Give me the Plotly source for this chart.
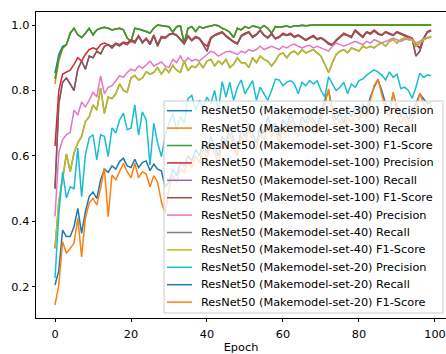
import plotly.graph_objects as go

epochs = list(range(100))

labels = [
    "ResNet50 (Makemodel-set-300) Precision",
    "ResNet50 (Makemodel-set-300) Recall",
    "ResNet50 (Makemodel-set-300) F1-Score",
    "ResNet50 (Makemodel-set-100) Precision",
    "ResNet50 (Makemodel-set-100) Recall",
    "ResNet50 (Makemodel-set-100) F1-Score",
    "ResNet50 (Makemodel-set-40) Precision",
    "ResNet50 (Makemodel-set-40) Recall",
    "ResNet50 (Makemodel-set-40) F1-Score",
    "ResNet50 (Makemodel-set-20) Precision",
    "ResNet50 (Makemodel-set-20) Recall",
    "ResNet50 (Makemodel-set-20) F1-Score",
]

colors = ["#1f77b4", "#ff7f0e", "#2ca02c", "#d62728", "#9467bd", "#8c564b",
          "#e377c2", "#7f7f7f", "#bcbd22", "#17becf", "#1f77b4", "#ff7f0e"]

set300_precision = [
    0.853, 0.910, 0.935, 0.940, 0.975, 0.990, 0.970, 0.962, 0.975, 0.990,
    0.970, 0.985, 0.990, 0.993, 0.990, 0.985, 0.988, 0.990, 0.985, 0.960,
    0.950, 0.990, 0.988, 0.985, 0.980, 0.975, 0.990, 1.000, 0.998, 0.997,
    0.995, 0.978, 0.995, 0.997, 0.945, 0.990, 0.995, 0.980, 0.995, 0.990,
    0.995, 0.997, 1.000, 0.998, 0.990, 0.985, 0.978, 0.962, 0.990, 0.985,
    0.995, 0.990, 0.997, 0.995, 0.990, 0.998, 0.990, 0.975, 0.995, 0.993,
    0.995, 0.997, 0.993, 0.998, 0.997, 0.999, 0.998, 1.000, 1.000, 1.000,
    1.000, 1.000, 1.000, 1.000, 1.000, 1.000, 1.000, 1.000, 1.000, 1.000,
    1.000, 1.000, 1.000, 1.000, 1.000, 1.000, 1.000, 1.000, 1.000, 1.000,
    1.000, 1.000, 1.000, 1.000, 1.000, 1.000, 1.000, 1.000, 1.000, 1.000,
]
set300_recall = [
    0.820, 0.890, 0.928, 0.940, 0.975, 0.990, 0.970, 0.962, 0.975, 0.990,
    0.970, 0.985, 0.990, 0.993, 0.990, 0.985, 0.988, 0.990, 0.985, 0.960,
    0.950, 0.990, 0.988, 0.985, 0.980, 0.975, 0.990, 1.000, 0.998, 0.997,
    0.995, 0.978, 0.995, 0.997, 0.945, 0.990, 0.995, 0.980, 0.995, 0.990,
    0.995, 0.997, 1.000, 0.998, 0.990, 0.985, 0.978, 0.962, 0.990, 0.985,
    0.995, 0.990, 0.997, 0.995, 0.990, 0.998, 0.990, 0.975, 0.995, 0.993,
    0.995, 0.997, 0.993, 0.998, 0.997, 0.999, 0.998, 1.000, 1.000, 1.000,
    1.000, 1.000, 1.000, 1.000, 1.000, 1.000, 1.000, 1.000, 1.000, 1.000,
    1.000, 1.000, 1.000, 1.000, 1.000, 1.000, 1.000, 1.000, 1.000, 1.000,
    1.000, 1.000, 1.000, 1.000, 1.000, 1.000, 1.000, 1.000, 1.000, 1.000,
]
set300_f1 = [
    0.835, 0.900, 0.930, 0.940, 0.975, 0.990, 0.970, 0.962, 0.975, 0.990,
    0.970, 0.985, 0.990, 0.993, 0.990, 0.985, 0.988, 0.990, 0.985, 0.960,
    0.950, 0.990, 0.988, 0.985, 0.980, 0.975, 0.990, 1.000, 0.998, 0.997,
    0.995, 0.978, 0.995, 0.997, 0.945, 0.990, 0.995, 0.980, 0.995, 0.990,
    0.995, 0.997, 1.000, 0.998, 0.990, 0.985, 0.978, 0.962, 0.990, 0.985,
    0.995, 0.990, 0.997, 0.995, 0.990, 0.998, 0.990, 0.975, 0.995, 0.993,
    0.995, 0.997, 0.993, 0.998, 0.997, 0.999, 0.998, 1.000, 1.000, 1.000,
    1.000, 1.000, 1.000, 1.000, 1.000, 1.000, 1.000, 1.000, 1.000, 1.000,
    1.000, 1.000, 1.000, 1.000, 1.000, 1.000, 1.000, 1.000, 1.000, 1.000,
    1.000, 1.000, 1.000, 1.000, 1.000, 1.000, 1.000, 1.000, 1.000, 1.000,
]

set100_precision = [
    0.630, 0.800, 0.850, 0.857, 0.862, 0.880, 0.900, 0.890, 0.910, 0.925,
    0.930, 0.925, 0.940, 0.945, 0.940, 0.935, 0.945, 0.940, 0.948, 0.945,
    0.955, 0.950, 0.968, 0.948, 0.960, 0.945, 0.970, 0.940, 0.965, 0.962,
    0.972, 0.975, 0.970, 0.958, 0.945, 0.968, 0.955, 0.965, 0.960, 0.945,
    0.935, 0.962, 0.970, 0.975, 0.980, 0.968, 0.958, 0.950, 0.945, 0.968,
    0.975, 0.980, 0.965, 0.972, 0.985, 0.970, 0.962, 0.975, 0.960, 0.965,
    0.975, 0.970, 0.975, 0.965, 0.970, 0.962, 0.955, 0.962, 0.968, 0.958,
    0.962, 0.955, 0.945, 0.940, 0.955, 0.965, 0.975, 0.970, 0.965, 0.985,
    0.975, 0.965, 0.980, 0.975, 0.985, 0.975, 0.970, 0.980, 0.975, 0.970,
    0.980, 0.975, 0.970, 0.965, 0.960, 0.940, 0.930, 0.960, 0.980, 0.985,
]
set100_recall = [
    0.500, 0.760, 0.825, 0.838, 0.820, 0.800, 0.865, 0.890, 0.865, 0.905,
    0.900, 0.920, 0.912, 0.935, 0.940, 0.930, 0.942, 0.936, 0.945, 0.940,
    0.952, 0.945, 0.965, 0.945, 0.958, 0.940, 0.967, 0.935, 0.962, 0.960,
    0.970, 0.973, 0.968, 0.955, 0.942, 0.965, 0.952, 0.962, 0.958, 0.940,
    0.920, 0.958, 0.968, 0.972, 0.978, 0.965, 0.955, 0.948, 0.942, 0.965,
    0.972, 0.978, 0.962, 0.970, 0.983, 0.968, 0.960, 0.972, 0.958, 0.962,
    0.972, 0.968, 0.972, 0.962, 0.968, 0.960, 0.953, 0.960, 0.965, 0.955,
    0.960, 0.952, 0.942, 0.938, 0.952, 0.962, 0.972, 0.968, 0.962, 0.982,
    0.972, 0.962, 0.978, 0.972, 0.982, 0.972, 0.968, 0.978, 0.972, 0.968,
    0.978, 0.972, 0.968, 0.962, 0.958, 0.905, 0.920, 0.958, 0.978, 0.982,
]
set100_f1 = [
    0.500, 0.760, 0.825, 0.838, 0.820, 0.800, 0.865, 0.890, 0.865, 0.905,
    0.900, 0.920, 0.912, 0.935, 0.940, 0.930, 0.942, 0.936, 0.945, 0.940,
    0.952, 0.945, 0.965, 0.945, 0.958, 0.940, 0.967, 0.935, 0.962, 0.960,
    0.970, 0.973, 0.968, 0.955, 0.942, 0.965, 0.952, 0.962, 0.958, 0.940,
    0.920, 0.958, 0.968, 0.972, 0.978, 0.965, 0.955, 0.948, 0.942, 0.965,
    0.972, 0.978, 0.962, 0.970, 0.983, 0.968, 0.960, 0.972, 0.958, 0.962,
    0.972, 0.968, 0.972, 0.962, 0.968, 0.960, 0.953, 0.960, 0.965, 0.955,
    0.960, 0.952, 0.942, 0.938, 0.952, 0.962, 0.972, 0.968, 0.962, 0.982,
    0.972, 0.962, 0.978, 0.972, 0.982, 0.972, 0.968, 0.978, 0.972, 0.968,
    0.978, 0.972, 0.968, 0.962, 0.958, 0.905, 0.920, 0.958, 0.978, 0.982,
]

set40_precision = [
    0.415, 0.610, 0.650, 0.665, 0.672, 0.740, 0.725, 0.765, 0.750, 0.770,
    0.795, 0.780, 0.845, 0.790, 0.810, 0.815, 0.830, 0.845, 0.840, 0.855,
    0.865, 0.860, 0.875, 0.868, 0.878, 0.890, 0.875, 0.880, 0.887, 0.875,
    0.870, 0.895, 0.885, 0.905, 0.885, 0.900, 0.890, 0.895, 0.890, 0.900,
    0.910, 0.920, 0.915, 0.905, 0.912, 0.918, 0.920, 0.915, 0.910, 0.920,
    0.915, 0.925, 0.920, 0.925, 0.935, 0.925, 0.930, 0.935, 0.930, 0.925,
    0.935, 0.930, 0.938, 0.942, 0.935, 0.930, 0.935, 0.938, 0.930, 0.935,
    0.930, 0.925, 0.920, 0.935, 0.945, 0.940, 0.935, 0.940, 0.945, 0.950,
    0.945, 0.940, 0.950, 0.945, 0.955, 0.950, 0.945, 0.950, 0.955, 0.960,
    0.955, 0.950, 0.955, 0.960, 0.955, 0.945, 0.950, 0.958, 0.962, 0.962,
]
set40_recall = [
    0.318, 0.460, 0.530, 0.606, 0.552, 0.609, 0.640, 0.660, 0.705, 0.720,
    0.756, 0.740, 0.807, 0.730, 0.780, 0.775, 0.790, 0.820, 0.800, 0.795,
    0.838, 0.846, 0.832, 0.838, 0.857, 0.850, 0.855, 0.870, 0.850, 0.868,
    0.855, 0.877, 0.862, 0.855, 0.890, 0.860, 0.875, 0.870, 0.885, 0.870,
    0.890, 0.895, 0.875, 0.890, 0.880, 0.895, 0.870, 0.880, 0.900, 0.885,
    0.885, 0.870, 0.900, 0.885, 0.905, 0.895, 0.890, 0.875, 0.890, 0.910,
    0.915, 0.900, 0.915, 0.920, 0.910, 0.925, 0.915, 0.920, 0.925, 0.915,
    0.905, 0.880, 0.855, 0.885, 0.910, 0.920, 0.925, 0.915, 0.930, 0.925,
    0.920, 0.935, 0.930, 0.935, 0.930, 0.940, 0.945, 0.935, 0.950, 0.955,
    0.945, 0.955, 0.960, 0.955, 0.955, 0.935, 0.945, 0.955, 0.960, 0.965,
]
set40_f1 = [
    0.318, 0.460, 0.530, 0.606, 0.552, 0.609, 0.640, 0.660, 0.705, 0.720,
    0.756, 0.740, 0.807, 0.730, 0.780, 0.775, 0.790, 0.820, 0.800, 0.795,
    0.838, 0.846, 0.832, 0.838, 0.857, 0.850, 0.855, 0.870, 0.850, 0.868,
    0.855, 0.877, 0.862, 0.855, 0.890, 0.860, 0.875, 0.870, 0.885, 0.870,
    0.890, 0.895, 0.875, 0.890, 0.880, 0.895, 0.870, 0.880, 0.900, 0.885,
    0.885, 0.870, 0.900, 0.885, 0.905, 0.895, 0.890, 0.875, 0.890, 0.910,
    0.915, 0.900, 0.915, 0.920, 0.910, 0.925, 0.915, 0.920, 0.925, 0.915,
    0.905, 0.880, 0.855, 0.885, 0.910, 0.920, 0.925, 0.915, 0.930, 0.925,
    0.920, 0.935, 0.930, 0.935, 0.930, 0.940, 0.945, 0.935, 0.950, 0.955,
    0.945, 0.955, 0.960, 0.955, 0.955, 0.935, 0.945, 0.955, 0.960, 0.965,
]

set20_precision = [
    0.227, 0.420, 0.552, 0.472, 0.506, 0.500, 0.624, 0.476, 0.603, 0.655,
    0.665, 0.588, 0.665, 0.660, 0.598, 0.686, 0.670, 0.710, 0.731, 0.680,
    0.685, 0.756, 0.664, 0.735, 0.710, 0.573, 0.700, 0.640, 0.598, 0.660,
    0.700, 0.730, 0.680, 0.720, 0.700, 0.775, 0.785, 0.740, 0.770, 0.750,
    0.780, 0.760, 0.800, 0.740, 0.827, 0.780, 0.825, 0.770, 0.810, 0.832,
    0.790, 0.810, 0.830, 0.770, 0.810, 0.790, 0.770, 0.800, 0.835, 0.832,
    0.815, 0.825, 0.830, 0.820, 0.790, 0.825, 0.815, 0.830, 0.820, 0.830,
    0.800, 0.780, 0.842, 0.820, 0.800, 0.810, 0.825, 0.790, 0.820, 0.810,
    0.830, 0.835, 0.847, 0.855, 0.863, 0.857, 0.847, 0.832, 0.857, 0.840,
    0.850, 0.806, 0.810, 0.800, 0.776, 0.810, 0.853, 0.840, 0.848, 0.845,
]
set20_recall = [
    0.206, 0.250, 0.374, 0.354, 0.354, 0.384, 0.440, 0.364, 0.430, 0.476,
    0.490, 0.470, 0.527, 0.560, 0.550, 0.570, 0.560, 0.583, 0.593, 0.570,
    0.565, 0.590, 0.565, 0.580, 0.585, 0.555, 0.575, 0.560, 0.555, 0.505,
    0.520, 0.560, 0.540, 0.580, 0.570, 0.600, 0.585, 0.620, 0.600, 0.640,
    0.610, 0.660, 0.630, 0.600, 0.660, 0.640, 0.690, 0.650, 0.620, 0.680,
    0.660, 0.700, 0.670, 0.640, 0.690, 0.670, 0.720, 0.680, 0.700, 0.660,
    0.710, 0.690, 0.730, 0.700, 0.680, 0.720, 0.700, 0.740, 0.710, 0.690,
    0.730, 0.770, 0.800, 0.740, 0.710, 0.730, 0.700, 0.740, 0.720, 0.750,
    0.730, 0.760, 0.740, 0.780, 0.810, 0.832, 0.800, 0.760, 0.740, 0.790,
    0.750, 0.720, 0.740, 0.710, 0.730, 0.760, 0.790, 0.775, 0.760, 0.765,
]
set20_f1 = [
    0.145, 0.206, 0.338, 0.303, 0.318, 0.334, 0.410, 0.292, 0.410, 0.456,
    0.471, 0.450, 0.502, 0.563, 0.415, 0.542, 0.527, 0.552, 0.578, 0.552,
    0.533, 0.578, 0.533, 0.552, 0.545, 0.506, 0.540, 0.520, 0.460, 0.425,
    0.500, 0.540, 0.520, 0.560, 0.550, 0.580, 0.565, 0.600, 0.580, 0.620,
    0.590, 0.640, 0.610, 0.580, 0.640, 0.620, 0.670, 0.630, 0.600, 0.660,
    0.640, 0.680, 0.650, 0.620, 0.670, 0.650, 0.700, 0.660, 0.680, 0.640,
    0.690, 0.670, 0.710, 0.680, 0.660, 0.700, 0.680, 0.720, 0.690, 0.670,
    0.710, 0.760, 0.805, 0.720, 0.690, 0.710, 0.680, 0.720, 0.700, 0.730,
    0.710, 0.740, 0.720, 0.770, 0.815, 0.835, 0.790, 0.740, 0.720, 0.795,
    0.730, 0.700, 0.720, 0.690, 0.710, 0.740, 0.792, 0.760, 0.740, 0.750,
]

series = [set300_precision, set300_recall, set300_f1,
          set100_precision, set100_recall, set100_f1,
          set40_precision, set40_recall, set40_f1,
          set20_precision, set20_recall, set20_f1]

x_ticks = [0, 20, 40, 60, 80, 100]
y_ticks = [0.2, 0.4, 0.6, 0.8, 1.0]
y_tick_text = ["0.2", "0.4", "0.6", "0.8", "1.0"]

W, H = 446, 354
ML, MR, MT, MB = 36, 0, 12, 36
PW, PH = W - ML - MR, H - MT - MB
FONT = "DejaVu Sans"
FS = 11.3


def px(xp):
    return (xp - ML) / PW


def py(yp):
    return (H - MB - yp) / PH


fig = go.Figure()
for name, vals, col in zip(labels, series, colors):
    fig.add_trace(go.Scatter(x=epochs, y=vals, mode="lines", name=name,
                             line=dict(color=col, width=1.5), showlegend=False))

# legend drawn as a matplotlib-style box
shapes = [dict(type="rect", xref="paper", yref="paper",
               x0=px(164), x1=px(443), y0=py(313), y1=py(101),
               fillcolor="rgba(255,255,255,0.8)",
               line=dict(color="#cccccc", width=1), layer="above")]
annotations = []
for i, (name, col) in enumerate(zip(labels, colors)):
    yc = 110.7 + 17.4 * i
    shapes.append(dict(type="line", xref="paper", yref="paper",
                       x0=px(167), x1=px(192), y0=py(yc), y1=py(yc),
                       line=dict(color=col, width=1.5), layer="above"))
    annotations.append(dict(xref="paper", yref="paper", x=px(199), y=py(yc),
                            text=name, showarrow=False, xanchor="left",
                            yanchor="middle",
                            font=dict(family=FONT, size=FS, color="black")))

axis_common = dict(showline=True, linecolor="black", linewidth=0.8,
                   ticks="outside", ticklen=3.5, tickwidth=0.8,
                   tickcolor="black", showgrid=False, zeroline=False,
                   tickfont=dict(family=FONT, size=FS, color="black"))

fig.update_layout(
    width=W, height=H,
    margin=dict(l=ML, r=MR, t=MT, b=MB, pad=0),
    paper_bgcolor="white", plot_bgcolor="white",
    font=dict(family=FONT, size=FS, color="black"),
    xaxis=dict(range=[-5.0, 102.9], tickvals=x_ticks, mirror=True,
               ticklabelstandoff=2,
               title=dict(text="Epoch", standoff=5,
                          font=dict(family=FONT, size=FS, color="black")),
               automargin=False, **axis_common),
    yaxis=dict(range=[0.1053, 1.0397], tickvals=y_ticks, ticktext=y_tick_text,
               automargin=False, **axis_common),
    shapes=shapes,
    annotations=annotations,
    showlegend=False,
)

fig.write_html(
    "out.html",
    config={"displayModeBar": False},
    post_script="document.body.style.margin='0';"
                "document.body.style.overflow='hidden';",
)
